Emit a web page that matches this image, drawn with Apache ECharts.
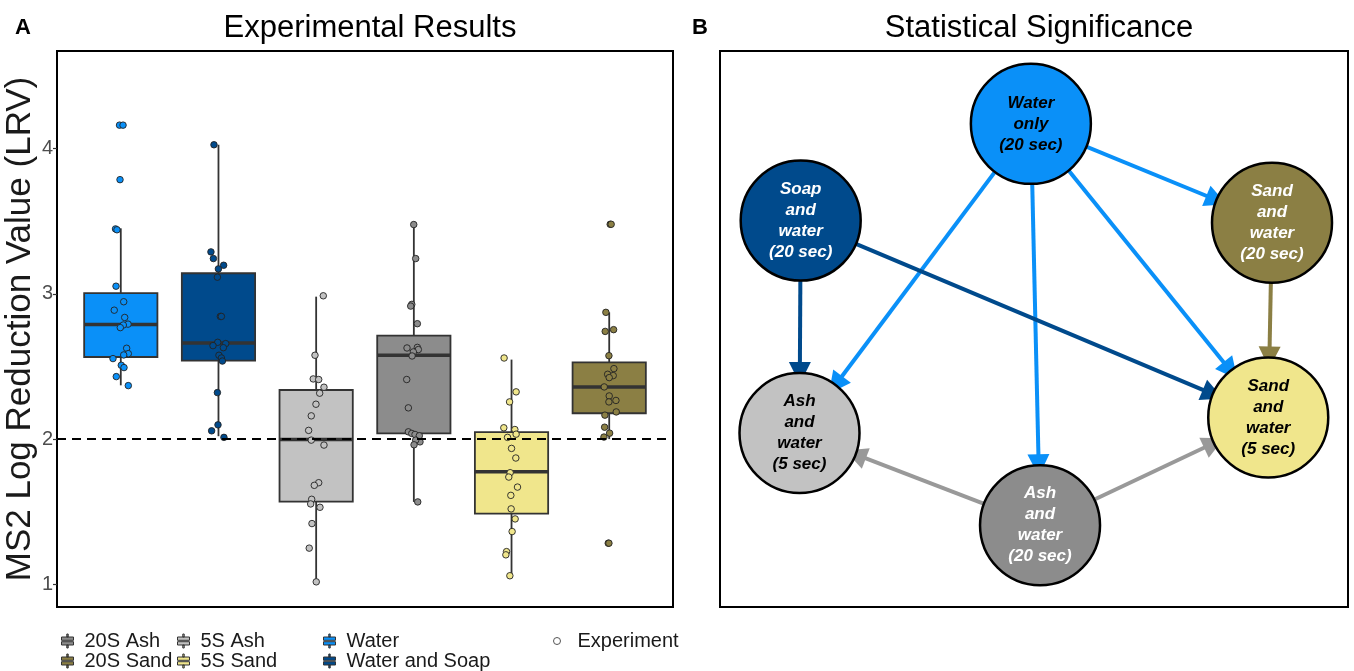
<!DOCTYPE html>
<html><head><meta charset="utf-8">
<script src="https://cdn.jsdelivr.net/npm/echarts@6/dist/echarts.min.js"></script>
<style>html,body{margin:0;padding:0;background:#fff}#c{width:1354px;height:671px}</style>
</head><body><div id="c"></div>
<script>
// ---------- Panel A data ----------
const groups = ['Water', 'Water and Soap', '5S Ash', '20S Ash', '5S Sand', '20S Sand'];
const groupColors = ['#0a90f8', '#004a8c', '#c2c2c2', '#8c8c8c', '#f0e68c', '#8b7f44'];
const legendOrder = [['20S Ash', '20S Sand'], ['5S Ash', '5S Sand'], ['Water', 'Water and Soap']];
const yTicks = [1, 2, 3, 4];
const threshold = 2;
// [lower whisker, Q1, median, Q3, upper whisker]
const boxWater = [2.37, 2.565, 2.789, 3.004, 3.45];
const boxWaterSoap = [2.02, 2.54, 2.661, 3.141, 4.025];
const box5SAsh = [1.02, 1.57, 1.998, 2.338, 2.98];
const box20SAsh = [1.568, 2.039, 2.577, 2.712, 3.476];
const box5SSand = [1.06, 1.487, 1.776, 2.048, 2.547];
const box20SSand = [2.0, 2.178, 2.359, 2.528, 2.872];
// experiment points: [horizontal jitter (category units), LRV]
const ptsWater = [[-0.013,4.16],[0.023,4.16],[-0.008,3.785],[-0.054,3.446],[-0.039,3.44],[-0.049,3.052],[0.030,2.945],[-0.067,2.887],[0.040,2.837],[0.074,2.791],[0.026,2.785],[-0.005,2.767],[0.060,2.625],[0.077,2.588],[0.030,2.579],[-0.080,2.554],[0.005,2.508],[0.033,2.492],[-0.046,2.43],[0.077,2.368]];
const ptsWaterSoap = [[-0.046,4.025],[-0.077,3.288],[-0.052,3.242],[0.053,3.196],[-0.001,3.171],[-0.011,3.114],[0.019,2.844],[0.030,2.844],[-0.008,2.666],[0.074,2.657],[-0.056,2.643],[0.050,2.629],[0.005,2.577],[0.030,2.558],[0.040,2.537],[-0.011,2.32],[-0.005,2.098],[-0.070,2.057],[0.056,2.012]];
const pts5SAsh = [[0.073,2.986],[-0.012,2.577],[-0.030,2.414],[0.026,2.41],[0.080,2.357],[0.036,2.316],[-0.002,2.24],[-0.050,2.16],[-0.077,2.06],[-0.050,1.993],[0.080,1.959],[0.026,1.70],[-0.019,1.682],[-0.046,1.586],[-0.056,1.554],[0.039,1.531],[-0.043,1.419],[-0.071,1.25],[0.001,1.018]];
const pts20SAsh = [[-0.001,3.476],[0.019,3.242],[-0.021,2.927],[-0.032,2.915],[0.036,2.794],[-0.070,2.627],[0.036,2.631],[0.046,2.616],[-0.005,2.6],[-0.018,2.572],[-0.073,2.41],[-0.056,2.215],[-0.056,2.05],[-0.021,2.039],[0.012,2.032],[0.056,2.023],[0.063,1.981],[0.019,1.993],[0.002,1.961],[0.040,1.568]];
const pts5SSand = [[-0.076,2.558],[0.047,2.325],[-0.020,2.256],[-0.079,2.078],[0.034,2.066],[0.047,2.034],[-0.041,2.012],[0.000,1.936],[0.044,1.87],[-0.014,1.769],[-0.028,1.739],[0.061,1.67],[-0.007,1.613],[-0.004,1.52],[0.037,1.451],[0.006,1.364],[-0.051,1.226],[-0.058,1.204],[-0.017,1.06]];
const pts20SSand = [[0.010,3.478],[0.020,3.478],[-0.034,2.872],[-0.041,2.741],[0.045,2.753],[-0.003,2.574],[0.048,2.485],[-0.016,2.446],[0.041,2.437],[0.000,2.423],[-0.051,2.359],[0.000,2.297],[-0.003,2.256],[0.069,2.266],[0.072,2.187],[-0.044,2.165],[-0.047,2.082],[0.004,2.041],[-0.054,2.014],[-0.010,1.284],[-0.003,1.284]];

const boxStats = [boxWater, boxWaterSoap, box5SAsh, box20SAsh, box5SSand, box20SSand];
const groupPoints = [ptsWater, ptsWaterSoap, pts5SAsh, pts20SAsh, pts5SSand, pts20SSand];

// ---------- Panel B data ----------
const nodeNames = ['Water\nonly\n(20 sec)', 'Soap\nand\nwater\n(20 sec)', 'Sand\nand\nwater\n(20 sec)', 'Ash\nand\nwater\n(5 sec)', 'Sand\nand\nwater\n(5 sec)', 'Ash\nand\nwater\n(20 sec)'];
const nodeX = [49.5, 12.85, 87.9, 12.66, 87.3, 50.96];
const nodeY = [86.9, 69.5, 69.1, 31.3, 34.1, 14.7];
const nodeFill = ['#0a90f8', '#004a8c', '#8b7f44', '#c2c2c2', '#f0e68c', '#8c8c8c'];
const nodeTextColor = ['#000', '#fff', '#fff', '#000', '#000', '#fff'];
// [source index, target index, colour]
const edgeList = [
  [0, 2, '#0a90f8'], [0, 3, '#0a90f8'], [0, 5, '#0a90f8'], [0, 4, '#0a90f8'],
  [2, 4, '#8b7f44'], [5, 3, '#999999'], [5, 4, '#999999'],
  [1, 3, '#004a8c'], [1, 4, '#004a8c']
];

const FONT = 'Liberation Sans, Arial, sans-serif';
const chart = echarts.init(document.getElementById('c'));

function renderBox(params, api) {
  const x = api.value(0);
  const lo = api.coord([x, api.value(1)]);
  const q1 = api.coord([x, api.value(2)]);
  const md = api.coord([x, api.value(3)]);
  const q3 = api.coord([x, api.value(4)]);
  const hi = api.coord([x, api.value(5)]);
  const half = api.size([0.75, 0])[0] / 2;
  const fill = api.visual('color');
  const st = {stroke: '#333', lineWidth: 1.8};
  return {type: 'group', children: [
    {type: 'line', shape: {x1: lo[0], y1: lo[1], x2: lo[0], y2: q1[1]}, style: st},
    {type: 'line', shape: {x1: hi[0], y1: hi[1], x2: hi[0], y2: q3[1]}, style: st},
    {type: 'rect', shape: {x: q3[0] - half, y: q3[1], width: half * 2, height: q1[1] - q3[1]}, style: {fill: fill, stroke: '#333', lineWidth: 1.8}},
    {type: 'line', shape: {x1: md[0] - half, y1: md[1], x2: md[0] + half, y2: md[1]}, style: {stroke: '#333', lineWidth: 3.5}}
  ]};
}

const boxSeries = groups.map((g, i) => ({
  name: g, type: 'custom', xAxisIndex: 0, yAxisIndex: 0,
  itemStyle: {color: groupColors[i]},
  renderItem: renderBox,
  encode: {x: 0, y: [1, 2, 3, 4, 5]},
  data: [[i + 1].concat(boxStats[i])],
  z: 2, silent: true
}));

const scatterData = [];
groupPoints.forEach((pts, i) => pts.forEach(p => scatterData.push({
  value: [i + 1 + p[0], p[1]], itemStyle: {color: groupColors[i]}
})));

const legendIcon = 'path://M6.3,0H7.7V3H6.3Z M1,3H13V6.3H1Z M1,7.7H13V11H1Z M6.3,11H7.7V14H6.3Z';
const legendLefts = [61, 177, 323];
const legendText = {fontSize: 20, color: '#1a1a1a', fontFamily: FONT, lineHeight: 20, padding: [0, 0, 0, 5]};
const legends = legendOrder.map((names, k) => ({
  data: names, orient: 'vertical', left: legendLefts[k], bottom: 0, padding: 0, itemGap: 0,
  itemWidth: 14, itemHeight: 14, icon: legendIcon, selectedMode: false,
  itemStyle: {borderColor: '#333', borderWidth: 1},
  textStyle: legendText
}));
legends.push({
  data: [{name: 'Experiment', icon: 'circle'}], orient: 'vertical', left: 553, bottom: 20, padding: 0,
  itemWidth: 7, itemHeight: 7, selectedMode: false,
  itemStyle: {color: '#fff', borderColor: '#555', borderWidth: 1},
  textStyle: {fontSize: 20, color: '#1a1a1a', fontFamily: FONT, lineHeight: 20, padding: [0, 0, 0, 12]}
});

const option = {
  animation: false,
  backgroundColor: '#fff',
  title: [
    {text: 'A', left: 10, top: 12, textStyle: {fontSize: 22, fontWeight: 'bold', color: '#000', fontFamily: FONT}},
    {text: 'Experimental Results', left: 365, textAlign: 'center', top: 8, textStyle: {fontSize: 31, fontWeight: 'normal', color: '#000', fontFamily: FONT}},
    {text: 'B', left: 687, top: 12, textStyle: {fontSize: 22, fontWeight: 'bold', color: '#000', fontFamily: FONT}},
    {text: 'Statistical Significance', left: 1034, textAlign: 'center', top: 8, textStyle: {fontSize: 31, fontWeight: 'normal', color: '#000', fontFamily: FONT}}
  ],
  legend: legends,
  grid: [
    {left: 57, top: 51, width: 616, height: 556, show: true, borderColor: '#000', borderWidth: 2, backgroundColor: '#fff'},
    {left: 720, top: 51, width: 628, height: 556, show: true, borderColor: '#000', borderWidth: 2, backgroundColor: '#fff'}
  ],
  xAxis: [
    {type: 'value', gridIndex: 0, min: 0.347, max: 6.653, show: false},
    {type: 'value', gridIndex: 1, min: 0, max: 100, show: false}
  ],
  yAxis: [
    {type: 'value', gridIndex: 0, min: 0.845, max: 4.67,
     name: 'MS2 Log Reduction Value (LRV)', nameLocation: 'middle', nameGap: 18, nameRotate: 90,
     nameTextStyle: {fontSize: 35, color: '#1a1a1a', fontFamily: FONT},
     axisLine: {show: false},
     axisTick: {show: true, length: 4, lineStyle: {color: '#333', width: 1.2}, customValues: yTicks},
     axisLabel: {fontSize: 20, color: '#4d4d4d', margin: 4, fontFamily: FONT, customValues: yTicks},
     splitLine: {show: false}},
    {type: 'value', gridIndex: 1, min: 0, max: 100, show: false}
  ],
  series: boxSeries.concat([
    {
      name: 'Experiment', type: 'scatter', xAxisIndex: 0, yAxisIndex: 0,
      symbolSize: 6.5, itemStyle: {color: '#fff', borderColor: '#222', borderWidth: 0.9, opacity: 1},
      data: scatterData, z: 4, silent: true
    },
    {
      type: 'line', xAxisIndex: 0, yAxisIndex: 0, data: [], z: 5, silent: true,
      markLine: {symbol: 'none', silent: true, label: {show: false},
        lineStyle: {color: '#000', type: [9, 6], width: 2},
        data: [{yAxis: threshold}]}
    },
    {
      type: 'graph', coordinateSystem: 'cartesian2d', xAxisIndex: 1, yAxisIndex: 1,
      symbolSize: 120, silent: true,
      edgeSymbol: ['none', 'triangle'], edgeSymbolSize: [0, 22],
      lineStyle: {opacity: 1, curveness: 0},
      label: {show: true, formatter: '{b}', fontSize: 17, fontWeight: 'bold', fontStyle: 'italic', lineHeight: 21, fontFamily: FONT},
      data: nodeNames.map((n, i) => ({
        name: n, value: [nodeX[i], nodeY[i]],
        itemStyle: {color: nodeFill[i], borderColor: '#000', borderWidth: 2.5},
        label: {color: nodeTextColor[i]}
      })),
      links: edgeList.map(e => ({source: e[0], target: e[1], lineStyle: {color: e[2], width: 4}})),
      z: 3
    }
  ])
};
chart.setOption(option);
</script>
</body></html>
